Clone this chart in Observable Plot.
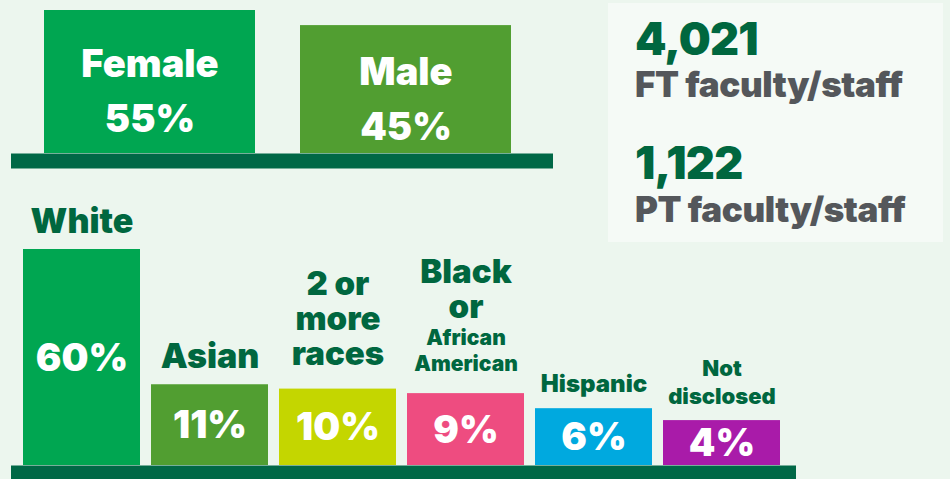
<!DOCTYPE html>
<html>
<head>
<meta charset="utf-8">
<script src="https://cdn.jsdelivr.net/npm/d3@7"></script>
<script src="https://cdn.jsdelivr.net/npm/@observablehq/plot@0.6"></script>
<style>
  html, body { margin: 0; padding: 0; background: #ECF6EE; }
  #wrap { position: relative; width: 950px; height: 479px; background: #ECF6EE; overflow: hidden; font-family: Inter, Lato, "Noto Sans", sans-serif; }
  #wrap svg { position: absolute; left: 0; top: 0; }
  #info { position: absolute; left: 608px; top: 3px; width: 335px; height: 239px; background: #F5FAF6; }
  #info div { position: absolute; left: 27px; white-space: nowrap; font-weight: 900; line-height: 1; }
  .num { font-size: 45px; color: #00673F; letter-spacing: -0.8px; }
  .lab { font-size: 35px; color: #54575B; letter-spacing: -0.4px; }
</style>
</head>
<body>
<div id="wrap"><div id="info"></div></div>
<script>
// ---- data ----
const genderCats = ["Female", "Male"];
const genderValues = [55, 45];

const raceCats = ["White", "Asian", "2 or more races", "Black or African American", "Hispanic", "Not disclosed"];
const raceValues = [60, 11, 10, 9, 6, 4];
const raceLabelMain = ["White", "Asian", "2 or\nmore\nraces", "Black\nor", "Hispanic", "Not\ndisclosed"];
const raceLabelSub = ["", "", "", "African\nAmerican", "", ""];

const staffTotals = [4021, 1122];
const staffLabels = ["FT faculty/staff", "PT faculty/staff"];

// ---- styling ----
const genderColors = ["#00A651", "#519E31"];
const raceColors = ["#00A651", "#519E31", "#C4D600", "#EE4C80", "#00A9DF", "#A91BA9"];
const dark = "#00673F";
const baseColor = "#006846";
const font = "Inter, Lato, 'Noto Sans', sans-serif";

const gender = genderCats.map((cat, i) => ({cat, value: genderValues[i]}));
const race = raceCats.map((cat, i) => ({cat, value: raceValues[i], main: raceLabelMain[i], sub: raceLabelSub[i]}));

const wrap = document.getElementById("wrap");

// ---- gender panel ----
const eG = 0.556;
const genderPlot = Plot.plot({
  width: 950, height: 479,
  marginLeft: 11, marginRight: 397, marginTop: 0, marginBottom: 0,
  style: {background: "transparent", overflow: "visible"},
  x: {type: "band", domain: genderCats, paddingInner: 0.175, paddingOuter: 0.142, align: 0.438, axis: null},
  y: {type: "pow", exponent: eG, domain: [0, 55], range: [153, 10], axis: null},
  color: {domain: genderCats, range: genderColors},
  marks: [
    Plot.barY(gender, {x: "cat", y: "value", fill: "cat"}),
    Plot.ruleY([0], {stroke: baseColor, strokeWidth: 15, dy: 7.5}),
    Plot.text(gender, {
      x: "cat", y: d => d.value * Math.pow(0.5, 1 / eG),
      text: d => `${d.cat}\n${d.value}%`,
      fill: "white", fontSize: 38, fontWeight: 900, fontFamily: font,
      lineHeight: 1.45, lineAnchor: "middle", dy: 5
    })
  ]
});
wrap.appendChild(genderPlot);

// ---- race panel ----
const eR = 0.58;
const smallSize = {"Hispanic": 24, "Not disclosed": 22};
const isSmall = d => d.cat in smallSize;
const isMulti = d => !isSmall(d) && d.main.includes("\n");
const racePlot = Plot.plot({
  width: 950, height: 479,
  marginLeft: 11, marginRight: 154, marginTop: 0, marginBottom: 0,
  style: {background: "transparent", overflow: "visible"},
  x: {type: "band", domain: raceCats, paddingInner: 0.0888, paddingOuter: 0.095, align: 0.44, axis: null},
  y: {type: "pow", exponent: eR, domain: [0, 60], range: [465, 249], axis: null},
  color: {domain: raceCats, range: raceColors},
  marks: [
    Plot.barY(race, {x: "cat", y: "value", fill: "cat"}),
    Plot.ruleY([0], {stroke: baseColor, strokeWidth: 14, dy: 7}),
    // percentages inside bars
    Plot.text(race, {
      x: "cat", y: d => d.value * Math.pow(0.5, 1 / eR),
      text: d => `${d.value}%`,
      fill: "white", fontSize: 38, fontWeight: 900, fontFamily: font, lineAnchor: "middle", dy: 1
    }),
    // single-line big labels
    Plot.text(race.filter(d => !isSmall(d) && !isMulti(d)), {
      x: "cat", y: "value", text: "main",
      fill: dark, fontSize: 34, fontWeight: 900, fontFamily: font,
      lineAnchor: "bottom", dy: -17
    }),
    // multi-line big labels without sub-label
    Plot.text(race.filter(d => isMulti(d) && !d.sub), {
      x: "cat", y: "value", text: "main",
      fill: dark, fontSize: 33, fontWeight: 900, fontFamily: font,
      lineAnchor: "bottom", lineHeight: 1.06, dy: -24
    }),
    // multi-line big labels with sub-label
    Plot.text(race.filter(d => isMulti(d) && d.sub), {
      x: "cat", y: "value", text: "main",
      fill: dark, fontSize: 33, fontWeight: 900, fontFamily: font,
      lineAnchor: "bottom", lineHeight: 1.06, dy: -76
    }),
    Plot.text(race.filter(d => d.sub), {
      x: "cat", y: "value", text: "sub",
      fill: dark, fontSize: 21, fontWeight: 900, fontFamily: font,
      lineAnchor: "bottom", lineHeight: 1.24, dy: -23
    }),
    // smaller labels
    Plot.text(race.filter(isSmall), {
      x: "cat", y: "value", text: "main",
      fill: dark, fontSize: d => smallSize[d.cat], fontWeight: 900, fontFamily: font,
      lineAnchor: "bottom", lineHeight: 1.27, dy: -17
    })
  ]
});
wrap.appendChild(racePlot);

// ---- staff totals box ----
const info = document.getElementById("info");
const tops = [[13, 64], [137, 189]];
staffTotals.forEach((n, i) => {
  const a = document.createElement("div");
  a.className = "num";
  a.style.top = tops[i][0] + "px";
  a.textContent = d3.format(",")(n);
  info.appendChild(a);
  const b = document.createElement("div");
  b.className = "lab";
  b.style.top = tops[i][1] + "px";
  b.textContent = staffLabels[i];
  info.appendChild(b);
});
</script>
</body>
</html>
